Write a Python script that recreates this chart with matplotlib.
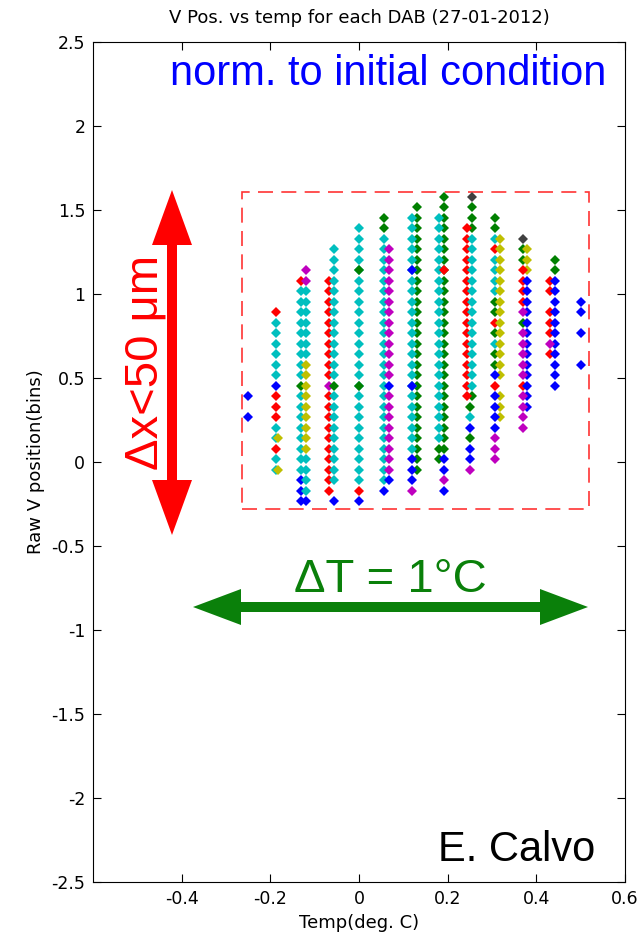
import matplotlib
matplotlib.use('Agg')
import matplotlib.pyplot as plt
from matplotlib.patches import Polygon, Rectangle

plt.rcParams['font.family'] = ['Liberation Sans', 'DejaVu Sans']

W, H = 638, 938

# temperature of each column of points (deg. C)
col_temps = [-0.25, -0.1875, -0.125, -0.0625, 0.0, 0.0625, 0.125,
             0.1875, 0.25, 0.3125, 0.375, 0.4375, 0.5]

# y of each row of points (bins); row k is y_rows[k + 4]
y_rows = [-0.235, -0.17, -0.11, -0.05, 0.02, 0.08, 0.14, 0.20, 0.27, 0.33,
          0.39, 0.45, 0.52, 0.58, 0.64, 0.70, 0.77, 0.83, 0.89, 0.95,
          1.02, 1.08, 1.14, 1.20, 1.27, 1.33, 1.39, 1.45, 1.52, 1.58]

# per column: (colour, side of the column, rows)
col_0 = [('b', 'C', [6, 4])]
col_1 = [('c', 'C', [13, 12, 11, 10, 9, 8, 3, 2, 0, -1]),
         ('r', 'C', [14, 6, 5, 4, 1]),
         ('b', 'C', [7]),
         ('y', 'R', [2, -1])]
col_2 = [('c', 'L', [16, 15, 14, 13, 12, 11, 10, 9, 8, 6, 5, 4, 3, 2, 1, 0, -1]),
         ('r', 'L', [17]),
         ('g', 'L', [7]),
         ('b', 'L', [-2, -3, -4]),
         ('m', 'R', [18, 17]),
         ('c', 'R', [16, 15, 14, 13, 12, 11, 10, 0, -1, -2, -3]),
         ('y', 'R', [9, 8, 7, 6, 5, 4, 3, 2, 1]),
         ('b', 'R', [-4])]
col_3 = [('r', 'L', [17, 16, 15, 14, 13, 12, 11, 10, 9, 8, 6, 5, 4, 3, 2, 1, 0, -1, -2, -3]),
         ('m', 'L', [7]),
         ('c', 'R', [20, 19, 18, 17, 16, 15, 14, 13, 12, 11, 10, 9, 8, 6, 5, 4, 3, 2, 1, 0, -1, -2]),
         ('g', 'R', [7]),
         ('b', 'R', [-4])]
col_4 = [('c', 'C', [22, 21, 20, 19, 18, 17, 16, 15, 14, 13, 12, 11, 10, 9, 8, 7,
                     6, 5, 4, 3, 2, 1, 0, -1, -2]),
         ('g', 'C', [18, 7]),
         ('r', 'C', [-3]),
         ('b', 'C', [-4])]
col_5 = [('g', 'L', [23, 22]),
         ('c', 'L', [21, 20, 19, 18, 17, 16, 15, 14, 13, 12, 11, 10, 9, 8, 7,
                     6, 5, 4, 3, 2, 1, 0, -1, -2]),
         ('m', 'R', [20, 19, 18, 17, 16, 15, 14, 13, 12, 11, 10, 9, 8,
                     6, 5, 4, 3, 2, 1, 0, -1]),
         ('b', 'R', [7, -2]),
         ('b', 'L', [-3])]
col_6 = [('g', 'R', [24, 23, 22, 21, 20, 19, 18, 17, 16, 15, 14, 13, 12, 11, 10,
                     9, 8, 7, 6, 5, 4, 3, 2, 1, 0, -1]),
         ('c', 'L', [23, 22, 21, 20, 19, 18, 17, 16, 15, 14, 13, 12, 11, 10, 9,
                     8, 7, 6, 5, 4, 3, 2, 1]),
         ('b', 'L', [18, 7, 0, -1, -2]),
         ('m', 'L', [-3])]
col_7 = [('g', 'R', [25, 24, 23, 22, 21, 20, 19, 18, 17, 16, 15, 14, 13, 12, 11,
                     10, 9, 8, 7, 6, 5, 4, 3, 2, 1]),
         ('c', 'L', [23, 22, 21, 20, 19, 18, 17, 16, 15, 14, 13, 12, 11, 10, 9,
                     8, 7, 6, 5, 4, 3, 2]),
         ('r', 'R', [18]),
         ('g', 'L', [1, 0]),
         ('b', 'R', [0, -1, -3]),
         ('m', 'R', [-2])]
col_8 = [('k', 'R', [25]),
         ('g', 'R', [24, 23, 22, 6]),
         ('r', 'L', [22, 21, 20, 19, 18, 17, 16, 15, 14, 13, 12, 11, 10, 9, 8, 7, 6]),
         ('c', 'R', [21, 20, 19, 18, 17, 16, 15, 14, 13, 12, 11, 10, 9, 8, 7]),
         ('g', 'C', [5, 2]),
         ('c', 'C', [4]),
         ('b', 'C', [3, 1, 0]),
         ('m', 'C', [-1])]
col_9 = [('g', 'L', [23, 22, 15, 14, 12, 10, 9]),
         ('c', 'L', [21, 19, 18, 17, 16, 11]),
         ('r', 'L', [20, 13, 7]),
         ('y', 'R', [21, 20, 19, 18, 17, 16, 15, 14, 13, 12, 11, 10, 9, 8,
                     6, 5, 4]),
         ('b', 'L', [8, 6, 5, 4, 3]),
         ('m', 'L', [2, 1, 0])]
col_10 = [('k', 'L', [21]),
          ('g', 'L', [20, 19, 13]),
          ('y', 'R', [20, 19, 18]),
          ('r', 'L', [18, 17, 16, 15, 7]),
          ('b', 'R', [17, 16, 15, 14, 13, 12, 11, 10, 9, 8, 7, 6, 5]),
          ('m', 'L', [14, 12, 11, 10, 9, 8, 6, 5, 4, 3])]
col_11 = [('g', 'R', [19, 18]),
          ('r', 'L', [17, 16, 14, 13, 12, 10]),
          ('b', 'R', [17, 16, 15, 14, 13, 12, 11, 10, 9, 8, 7]),
          ('m', 'L', [11])]
col_12 = [('b', 'C', [15, 14, 12, 9])]

columns = [col_0, col_1, col_2, col_3, col_4, col_5, col_6, col_7,
           col_8, col_9, col_10, col_11, col_12]

# MATLAB default line colours
mcolors = {'b': (0, 0, 1), 'g': (0, 0.5, 0), 'r': (1, 0, 0), 'c': (0, 0.75, 0.75),
           'm': (0.75, 0, 0.75), 'y': (0.75, 0.75, 0), 'k': (0.25, 0.25, 0.25)}
side_dx = {'L': -0.006, 'C': 0.0, 'R': 0.005}

fig = plt.figure(figsize=(W / 100, H / 100), dpi=100)
ax = fig.add_axes([93 / W, 1 - 882 / H, (625 - 93) / W, (882 - 42) / H])

for t, col in zip(col_temps, columns):
    for c, side, rows in col:
        ys = [y_rows[k + 4] for k in rows]
        ax.plot([t + side_dx[side]] * len(ys), ys, 'D', color=mcolors[c],
                ms=4.9, mew=0, ls='none')

# dashed box round the data
ax.add_patch(Rectangle((-0.264, -0.28), 0.782, 1.887, fill=False,
                       ec=(1, 0.2, 0.2), lw=1.2, ls=(0, (9, 5))))

axfont = 'DejaVu Sans'
ax.set_xlim(-0.6, 0.6)
ax.set_ylim(-2.5, 2.5)
ax.set_xticks([-0.4, -0.2, 0, 0.2, 0.4, 0.6])
ax.set_xticklabels(['-0.4', '-0.2', '0', '0.2', '0.4', '0.6'])
yt = [-2.5, -2, -1.5, -1, -0.5, 0, 0.5, 1, 1.5, 2, 2.5]
ax.set_yticks(yt)
ax.set_yticklabels(['%g' % v for v in yt])
ax.tick_params(direction='in', length=6, width=0.8, top=True, right=True,
               labelsize=12.5)
ax.tick_params(axis='x', pad=6)
ax.tick_params(axis='y', pad=5.5)
for lab in ax.get_xticklabels() + ax.get_yticklabels():
    lab.set_family(axfont)
for s in ax.spines.values():
    s.set_linewidth(0.8)

ax.set_title('V Pos. vs temp for each DAB (27-01-2012)', fontsize=13,
             family=axfont, pad=14)
ax.set_xlabel('Temp(deg. C)', fontsize=13, family=axfont, labelpad=4)
ax.set_ylabel('Raw V position(bins)', fontsize=13, family=axfont, labelpad=5)


def px(x, y):
    return (x / W, 1 - y / H)


def double_arrow(x0, y0, x1, y1, sw, hw, hl, color):
    L = ((x1 - x0) ** 2 + (y1 - y0) ** 2) ** 0.5
    ux, uy = (x1 - x0) / L, (y1 - y0) / L
    nx, ny = -uy, ux
    sx, sy = x0 + ux * hl, y0 + uy * hl
    ex, ey = x1 - ux * hl, y1 - uy * hl
    pts = [(x0, y0),
           (sx + nx * hw / 2, sy + ny * hw / 2),
           (sx + nx * sw / 2, sy + ny * sw / 2),
           (ex + nx * sw / 2, ey + ny * sw / 2),
           (ex + nx * hw / 2, ey + ny * hw / 2),
           (x1, y1),
           (ex - nx * hw / 2, ey - ny * hw / 2),
           (ex - nx * sw / 2, ey - ny * sw / 2),
           (sx - nx * sw / 2, sy - ny * sw / 2),
           (sx - nx * hw / 2, sy - ny * hw / 2)]
    fig.patches.append(Polygon([px(*p) for p in pts], closed=True, fc=color,
                               ec='none', transform=fig.transFigure))


red = '#ff0000'
green = '#0a800a'
double_arrow(172, 190, 172, 535, 10, 40, 55, red)
double_arrow(193, 607, 588, 607, 10, 36, 48, green)

fig.text(*px(145, 362), '\u0394x<50 \u03bcm', color=red, fontsize=34,
         rotation=90, ha='center', va='center')
fig.text(*px(390, 580), '\u0394T = 1\u00b0C', color=green, fontsize=34,
         ha='center', va='center')
fig.text(*px(388, 74), 'norm. to initial condition', color='#0000ff',
         fontsize=30, ha='center', va='center')
fig.text(*px(517, 850), 'E. Calvo', color='black', fontsize=30,
         ha='center', va='center')

fig.savefig('out.png', dpi=100)
